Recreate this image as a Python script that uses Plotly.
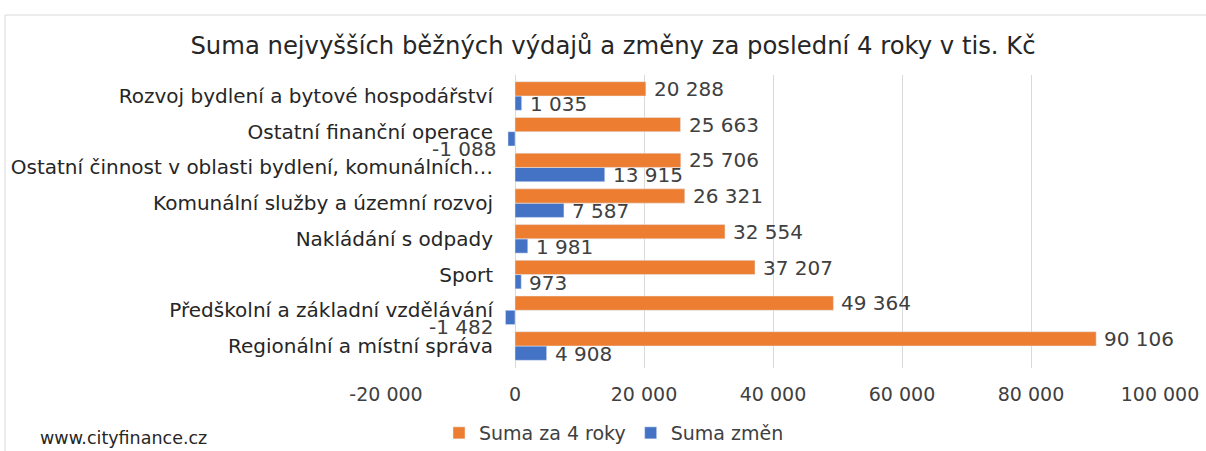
import plotly.graph_objects as go

# categories listed bottom-to-top (Plotly places the first category at the bottom)
categories = [
    "Regionální a místní správa",
    "Předškolní a základní vzdělávání",
    "Sport",
    "Nakládání s odpady",
    "Komunální služby a územní rozvoj",
    "Ostatní činnost v oblasti bydlení, komunálních…",
    "Ostatní finanční operace",
    "Rozvoj bydlení a bytové hospodářství",
]
suma_4_roky = [90106, 49364, 37207, 32554, 26321, 25706, 25663, 20288]
suma_zmen = [4908, -1482, 973, 1981, 7587, 13915, -1088, 1035]
tick_vals = [-20000, 0, 20000, 40000, 60000, 80000, 100000]
tick_text = ["-20 000", "0", "20 000", "40 000", "60 000", "80 000", "100 000"]

ORANGE = "#ED7D31"
BLUE = "#4472C4"
TXT = "#262626"
FONT = "DejaVu Sans"


def fmt(v):
    return f"{v:,}".replace(",", " ")


L, R, T, B = 386, 46, 75, 83
W, H = 1206, 451
pw, ph = W - L - R, H - T - B


def px_to_paper_x(px):
    return (px - L) / pw


def px_to_paper_y(py):
    return (H - B - py) / ph


fig = go.Figure()
fig.add_trace(go.Bar(
    y=categories, x=suma_zmen, orientation="h", name="Suma změn",
    marker=dict(color=BLUE), legendrank=2, hoverinfo="skip",
))
fig.add_trace(go.Bar(
    y=categories, x=suma_4_roky, orientation="h", name="Suma za 4 roky",
    marker=dict(color=ORANGE), legendrank=1, hoverinfo="skip",
))

label_font = dict(family=FONT, size=20, color="#404040")
annotations = []
for cat, v in zip(categories, suma_4_roky):
    annotations.append(dict(
        x=v, y=cat, xref="x", yref="y", text=fmt(v), showarrow=False,
        xanchor="left", yanchor="middle", xshift=6, yshift=7, font=label_font,
    ))
for cat, v in zip(categories, suma_zmen):
    if v >= 0:
        annotations.append(dict(
            x=v, y=cat, xref="x", yref="y", text=fmt(v), showarrow=False,
            xanchor="left", yanchor="middle", xshift=6, yshift=-8, font=label_font,
        ))
    else:
        annotations.append(dict(
            x=v, y=cat, xref="x", yref="y", text=fmt(v), showarrow=False,
            xanchor="right", yanchor="middle", xshift=-10, yshift=-17, font=label_font,
        ))

annotations.append(dict(
    x=px_to_paper_x(38), y=px_to_paper_y(438), xref="paper", yref="paper",
    text="www.cityfinance.cz", showarrow=False, xanchor="left", yanchor="middle",
    font=dict(family=FONT, size=17.5, color=TXT),
))

fig.update_layout(
    width=W, height=H,
    margin=dict(l=L, r=R, t=T, b=B, autoexpand=False),
    paper_bgcolor="white", plot_bgcolor="white",
    barmode="group", bargap=0.2, bargroupgap=0,
    title=dict(
        text="Suma nejvyšších běžných výdajů a změny za poslední 4 roky v tis. Kč",
        x=613 / W, xanchor="center",
        y=1 - 45 / H, yanchor="middle",
        font=dict(family=FONT, size=24.3, color=TXT),
    ),
    xaxis=dict(
        range=[-20000, 100000], tickvals=tick_vals, ticktext=tick_text,
        showgrid=True, gridcolor="#d9d9d9", gridwidth=1,
        zeroline=True, zerolinecolor="#d9d9d9", zerolinewidth=1,
        showline=False, ticks="", ticklabelstandoff=13, automargin=False,
        tickfont=dict(family=FONT, size=19, color="#404040"),
        fixedrange=True,
    ),
    yaxis=dict(
        anchor="free", position=20000 / 120000, automargin=False,
        showgrid=False, zeroline=False, showline=False, ticks="",
        ticklabelstandoff=22,
        tickfont=dict(family=FONT, size=20, color=TXT),
        fixedrange=True,
    ),
    legend=dict(
        orientation="h", x=px_to_paper_x(614), xanchor="center",
        y=px_to_paper_y(433), yanchor="middle",
        font=dict(family=FONT, size=19, color="#404040"),
        itemwidth=30, traceorder="normal",
    ),
    annotations=annotations,
    shapes=[
        dict(type="rect", xref="paper", yref="paper",
             x0=px_to_paper_x(5), x1=px_to_paper_x(1220),
             y0=px_to_paper_y(470), y1=px_to_paper_y(15),
             line=dict(color="#d9d9d9", width=1), fillcolor="rgba(0,0,0,0)",
             layer="below"),
    ],
)

fig.write_html(
    "out.html",
    config={"displayModeBar": False},
    post_script="document.body.style.margin='0';document.body.style.padding='0';",
)
